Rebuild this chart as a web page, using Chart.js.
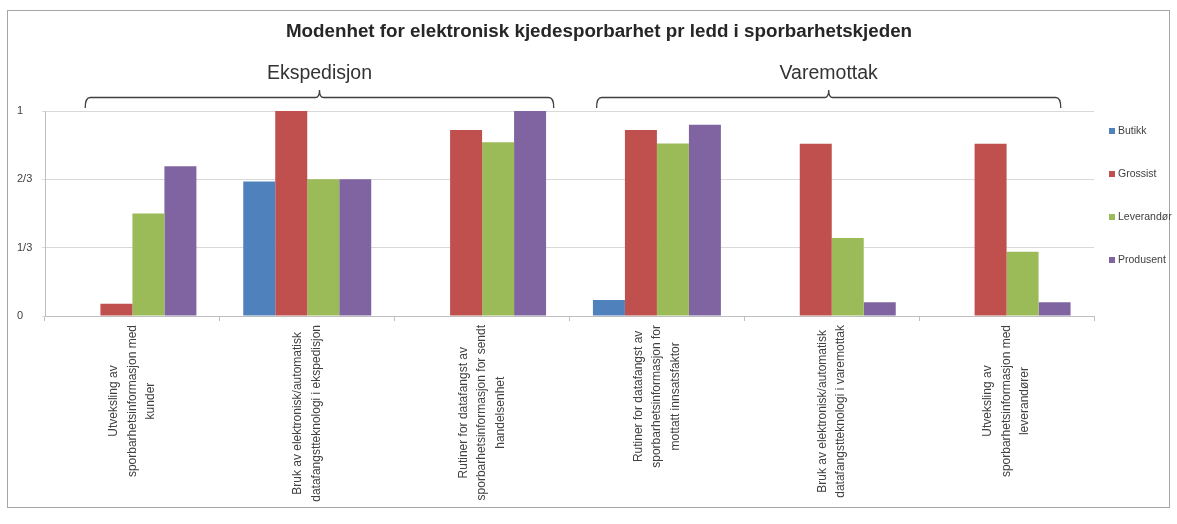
<!DOCTYPE html>
<html lang="no">
  <head>
    <meta charset="utf-8" />
    <title>Modenhet for elektronisk kjedesporbarhet</title>
    <style>
      html,
      body {
        margin: 0;
        padding: 0;
        background: #fff;
      }
    </style>
  </head>
  <body>
    <canvas id="chart" width="1177" height="524"></canvas>
    <script src="https://cdn.jsdelivr.net/npm/chart.js@4"></script>
    <script>
      const title =
        "Modenhet for elektronisk kjedesporbarhet pr ledd i sporbarhetskjeden";

      // one entry per ledd, split into the lines shown under the axis
      const categories = [
        ["Utveksling av", "sporbarhetsinformasjon med", "kunder"],
        ["Bruk av elektronisk/automatisk", "datafangstteknologi i ekspedisjon"],
        ["Rutiner for datafangst av", "sporbarhetsinformasjon for sendt", "handelsenhet"],
        ["Rutiner for datafangst av", "sporbarhetsinformasjon for", "mottatt innsatsfaktor"],
        ["Bruk av elektronisk/automatisk", "datafangstteknologi i varemottak"],
        ["Utveksling av", "sporbarhetsinformasjon med", "leverandører"],
      ];

      const seriesNames = ["Butikk", "Grossist", "Leverandør", "Produsent"];
      const butikk = [0, 0.656, 0, 0.078, 0, 0];
      const grossist = [0.06, 1, 0.907, 0.907, 0.84, 0.84];
      const leverandor = [0.5, 0.667, 0.847, 0.842, 0.381, 0.314];
      const produsent = [0.73, 0.667, 1, 0.933, 0.067, 0.067];

      const yTicks = [0, 1 / 3, 2 / 3, 1];
      const yTickLabels = ["0", "1/3", "2/3", "1"];

      // the two stages the ledd are grouped under
      const groupNames = ["Ekspedisjon", "Varemottak"];
      const groupFirst = [0, 3];
      const groupLast = [2, 5];

      const colors = ["#4f81bd", "#c0504d", "#9bbb59", "#8064a2"];
      const textColor = "#404040";
      const fontFamily = '"Liberation Sans", Arial, sans-serif';

      Chart.defaults.font.family = fontFamily;
      Chart.defaults.color = textColor;

      // title, group braces, rotated category labels, legend and frame
      const decorations = {
        id: "decorations",
        afterDraw(chart) {
          const { ctx } = chart;
          const x = chart.scales.x;
          const catW = x.getPixelForValue(1) - x.getPixelForValue(0);

          ctx.save();

          ctx.strokeStyle = "#a6a6a6";
          ctx.lineWidth = 1;
          ctx.strokeRect(7.5, 10.5, 1162, 497);

          ctx.fillStyle = "#262626";
          ctx.font = "bold 18.8px " + fontFamily;
          ctx.textAlign = "center";
          ctx.textBaseline = "middle";
          ctx.fillText(title, 599, 32);

          // braces over each group
          const braceFrom = [-0.27, 2.655];
          const braceTo = [2.41, 5.31];
          groupNames.forEach((name, g) => {
            const x0 = x.getPixelForValue(groupFirst[g]) + (braceFrom[g] - groupFirst[g]) * catW;
            const x1 = x.getPixelForValue(groupLast[g]) + (braceTo[g] - groupLast[g]) * catW;
            const cx = (x0 + x1) / 2;
            const yl = 97.5, yb = 108, yt = 90;
            ctx.beginPath();
            ctx.moveTo(x0, yb);
            ctx.quadraticCurveTo(x0, yl, x0 + 5, yl);
            ctx.lineTo(cx - 4, yl);
            ctx.quadraticCurveTo(cx, yl, cx, yt);
            ctx.quadraticCurveTo(cx, yl, cx + 4, yl);
            ctx.lineTo(x1 - 5, yl);
            ctx.quadraticCurveTo(x1, yl, x1, yb);
            ctx.strokeStyle = "#404040";
            ctx.lineWidth = 1.3;
            ctx.stroke();

            ctx.fillStyle = "#333";
            ctx.font = "19.5px " + fontFamily;
            ctx.fillText(name, cx, 74);
          });

          // category labels, rotated, lines centred on each other
          ctx.font = "12px " + fontFamily;
          ctx.fillStyle = textColor;
          categories.forEach((lines, i) => {
            const cx = x.getPixelForValue(i);
            const maxW = Math.max(...lines.map((l) => ctx.measureText(l).width));
            const midY = chart.chartArea.bottom + 9 + maxW / 2;
            ctx.save();
            ctx.translate(cx, midY);
            ctx.rotate(-Math.PI / 2);
            lines.forEach((line, j) => {
              ctx.fillText(line, 0, (j - (lines.length - 1) / 2) * 18.5);
            });
            ctx.restore();
          });

          // legend
          ctx.font = "10.5px " + fontFamily;
          ctx.textAlign = "left";
          chart.data.datasets.forEach((ds, i) => {
            const y = 131 + i * 43;
            ctx.fillStyle = ds.backgroundColor;
            ctx.fillRect(1109, y - 3, 6, 6);
            ctx.fillStyle = textColor;
            ctx.fillText(ds.label, 1118, y);
          });

          ctx.restore();
        },
      };

      new Chart(document.getElementById("chart"), {
        type: "bar",
        data: {
          labels: categories.map((c) => c.join(" ")),
          datasets: [butikk, grossist, leverandor, produsent].map((values, i) => ({
            label: seriesNames[i],
            data: values,
            backgroundColor: colors[i],
            borderWidth: 0,
            categoryPercentage: 0.732,
            barPercentage: 1,
          })),
        },
        options: {
          responsive: false,
          animation: false,
          layout: { padding: { left: 17, top: 111, right: 83, bottom: 0 } },
          plugins: {
            legend: { display: false },
            tooltip: { enabled: false },
          },
          scales: {
            x: {
              ticks: { display: false },
              grid: {
                drawOnChartArea: false,
                drawTicks: true,
                tickLength: 5,
                color: "#bfbfbf",
              },
              border: { color: "#bfbfbf" },
              afterFit: (axis) => {
                axis.height = 208;
              },
            },
            y: {
              min: 0,
              max: 1,
              afterBuildTicks: (axis) => {
                axis.ticks = yTicks.map((v) => ({ value: v }));
              },
              ticks: {
                crossAlign: "far",
                font: { size: 11 },
                color: textColor,
                callback: (value) => {
                  const i = yTicks.findIndex((t) => Math.abs(t - value) < 1e-6);
                  return yTickLabels[i];
                },
              },
              grid: { color: "#d9d9d9", tickLength: 3 },
              border: { color: "#bfbfbf" },
              afterFit: (axis) => {
                axis.width = 28;
              },
            },
          },
        },
        plugins: [decorations],
      });
    </script>
  </body>
</html>
